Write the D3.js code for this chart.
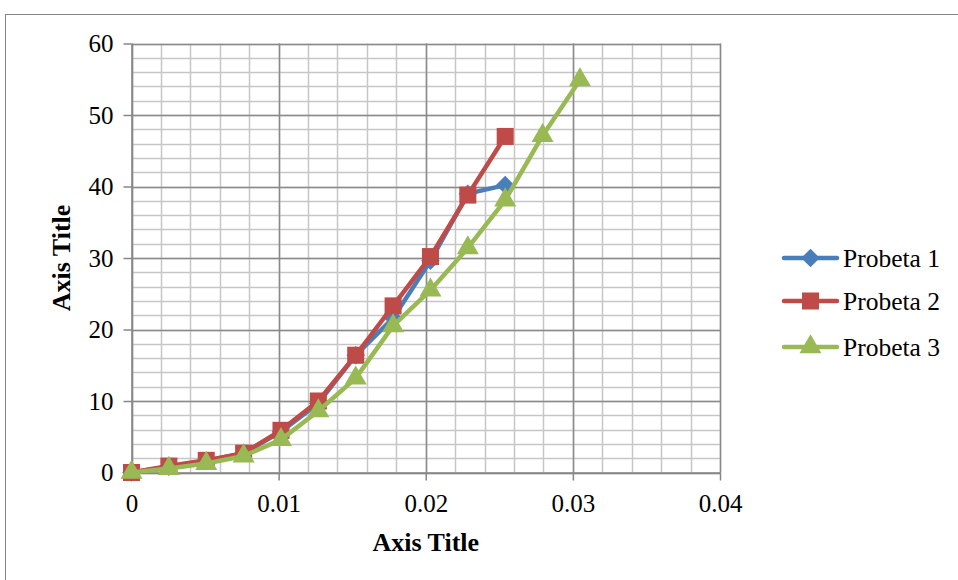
<!DOCTYPE html>
<html><head><meta charset="utf-8">
<script src="https://cdn.jsdelivr.net/npm/d3@7"></script>
<style>body{margin:0;background:#fff}svg{display:block}</style>
</head><body>
<svg id="c" width="958" height="580"></svg>
<script>
const xValues = [0, 0.00254, 0.00508, 0.00762, 0.01016, 0.0127, 0.01524, 0.01778, 0.02032, 0.02286, 0.0254, 0.02794, 0.03048];
const probeta1 = [0, 0.8, 1.6, 2.7, 5.7, 9.7, 16.4, 21.6, 29.6, 39.0, 40.2];
const probeta2 = [0, 0.9, 1.7, 2.7, 5.9, 10.0, 16.4, 23.3, 30.2, 38.8, 47.0];
const probeta3 = [0, 0.55, 1.25, 2.3, 4.6, 8.6, 13.2, 20.5, 25.5, 31.4, 38.1, 47.1, 54.9];
const seriesNames = ["Probeta 1", "Probeta 2", "Probeta 3"];
const xTicks = [0, 0.01, 0.02, 0.03, 0.04];
const yTicks = [0, 10, 20, 30, 40, 50, 60];
const xTitle = "Axis Title", yTitle = "Axis Title";

const colors = ["#4a7ebb", "#be4b48", "#98b954"];
const diamond = { draw(ctx, size) { const r = Math.sqrt(size / 2); ctx.moveTo(0, -r); ctx.lineTo(r, 0); ctx.lineTo(0, r); ctx.lineTo(-r, 0); ctx.closePath(); } };
const shapes = [diamond, d3.symbolSquare, d3.symbolTriangle];
const series = [probeta1, probeta2, probeta3].map((vals, i) => ({
  name: seriesNames[i], color: colors[i], shape: shapes[i],
  pts: vals.map((v, j) => [xValues[j], v])
}));

const svg = d3.select("#c");
const font = "'Liberation Serif','Times New Roman',serif";
svg.append("rect").attr("x", 5.5).attr("y", 14.5).attr("width", 1200).attr("height", 1200)
  .attr("fill", "none").attr("stroke", "#868686").attr("stroke-width", 1);

const L = 131.5, R = 720, T = 43.5, B = 472.5;
const x = d3.scaleLinear().domain([0, 0.04]).range([L, R]);
const y = d3.scaleLinear().domain([0, 60]).range([B, T]);

const g = svg.append("g");
const xMinor = d3.range(0, 0.0401, 0.002), yMinor = d3.range(0, 60.1, 2);
g.selectAll(".vm").data(xMinor).join("line")
  .attr("x1", d => Math.round(x(d)) + 0.5).attr("x2", d => Math.round(x(d)) + 0.5)
  .attr("y1", T).attr("y2", B).attr("stroke", "#c6c6c6").attr("stroke-width", 1.5);
g.selectAll(".hm").data(yMinor).join("line")
  .attr("y1", d => Math.round(y(d)) + 0.5).attr("y2", d => Math.round(y(d)) + 0.5)
  .attr("x1", L).attr("x2", R).attr("stroke", "#c6c6c6").attr("stroke-width", 1.5);
g.selectAll(".vM").data(xTicks).join("line")
  .attr("x1", d => Math.round(x(d)) + 0.5).attr("x2", d => Math.round(x(d)) + 0.5)
  .attr("y1", T).attr("y2", B).attr("stroke", "#8a8a8a").attr("stroke-width", 1.5);
g.selectAll(".hM").data(yTicks).join("line")
  .attr("y1", d => Math.round(y(d)) + 0.5).attr("y2", d => Math.round(y(d)) + 0.5)
  .attr("x1", L).attr("x2", R).attr("stroke", "#8a8a8a").attr("stroke-width", 1.5);

const xAxis = d3.axisBottom(x).tickValues(xTicks).tickFormat(d => String(+d.toFixed(2))).tickSizeOuter(0).tickSizeInner(8).tickPadding(14);
const yAxis = d3.axisLeft(y).tickValues(yTicks).tickSizeOuter(0).tickSizeInner(8).tickPadding(10);
const gx = svg.append("g").attr("transform", `translate(0,${B})`).call(xAxis);
const gy = svg.append("g").attr("transform", `translate(${L},0)`).call(yAxis);
[gx, gy].forEach(a => {
  a.select(".domain").attr("stroke", "#868686").attr("stroke-width", 1.5);
  a.selectAll(".tick line").attr("stroke", "#868686").attr("stroke-width", 1.5);
  a.selectAll("text").attr("font-family", font).attr("font-size", 25).attr("fill", "#000");
});

svg.append("text").attr("x", (L + R) / 2).attr("y", 551).attr("text-anchor", "middle")
  .attr("font-family", font).attr("font-weight", "bold").attr("font-size", 26).text(xTitle);
svg.append("text").attr("transform", `translate(70,${(T + B) / 2}) rotate(-90)`).attr("text-anchor", "middle")
  .attr("font-family", font).attr("font-weight", "bold").attr("font-size", 26).text(yTitle);

const line = d3.line().x(d => x(d[0])).y(d => y(d[1]));
const symSize = [170, 290, 210];
series.forEach((s, i) => {
  svg.append("path").datum(s.pts).attr("d", line).attr("fill", "none")
    .attr("stroke", s.color).attr("stroke-width", 4.5).attr("stroke-linejoin", "round").attr("stroke-linecap", "round");
  svg.append("g").selectAll("path").data(s.pts).join("path")
    .attr("d", d3.symbol().type(s.shape).size(symSize[i]))
    .attr("transform", d => `translate(${x(d[0])},${y(d[1])})`).attr("fill", s.color);
});

const legY = [258, 301, 347];
series.forEach((s, i) => {
  const lg = svg.append("g").attr("transform", `translate(0,${legY[i]})`);
  lg.append("line").attr("x1", 784).attr("x2", 837).attr("y1", 0).attr("y2", 0)
    .attr("stroke", s.color).attr("stroke-width", 4.5).attr("stroke-linecap", "round");
  lg.append("path").attr("d", d3.symbol().type(s.shape).size(symSize[i])).attr("transform", "translate(810.5,0)").attr("fill", s.color);
  lg.append("text").attr("x", 843).attr("y", 0).attr("dy", "0.35em").attr("font-family", font)
    .attr("font-size", 25.5).text(s.name);
});
</script>
</body></html>
